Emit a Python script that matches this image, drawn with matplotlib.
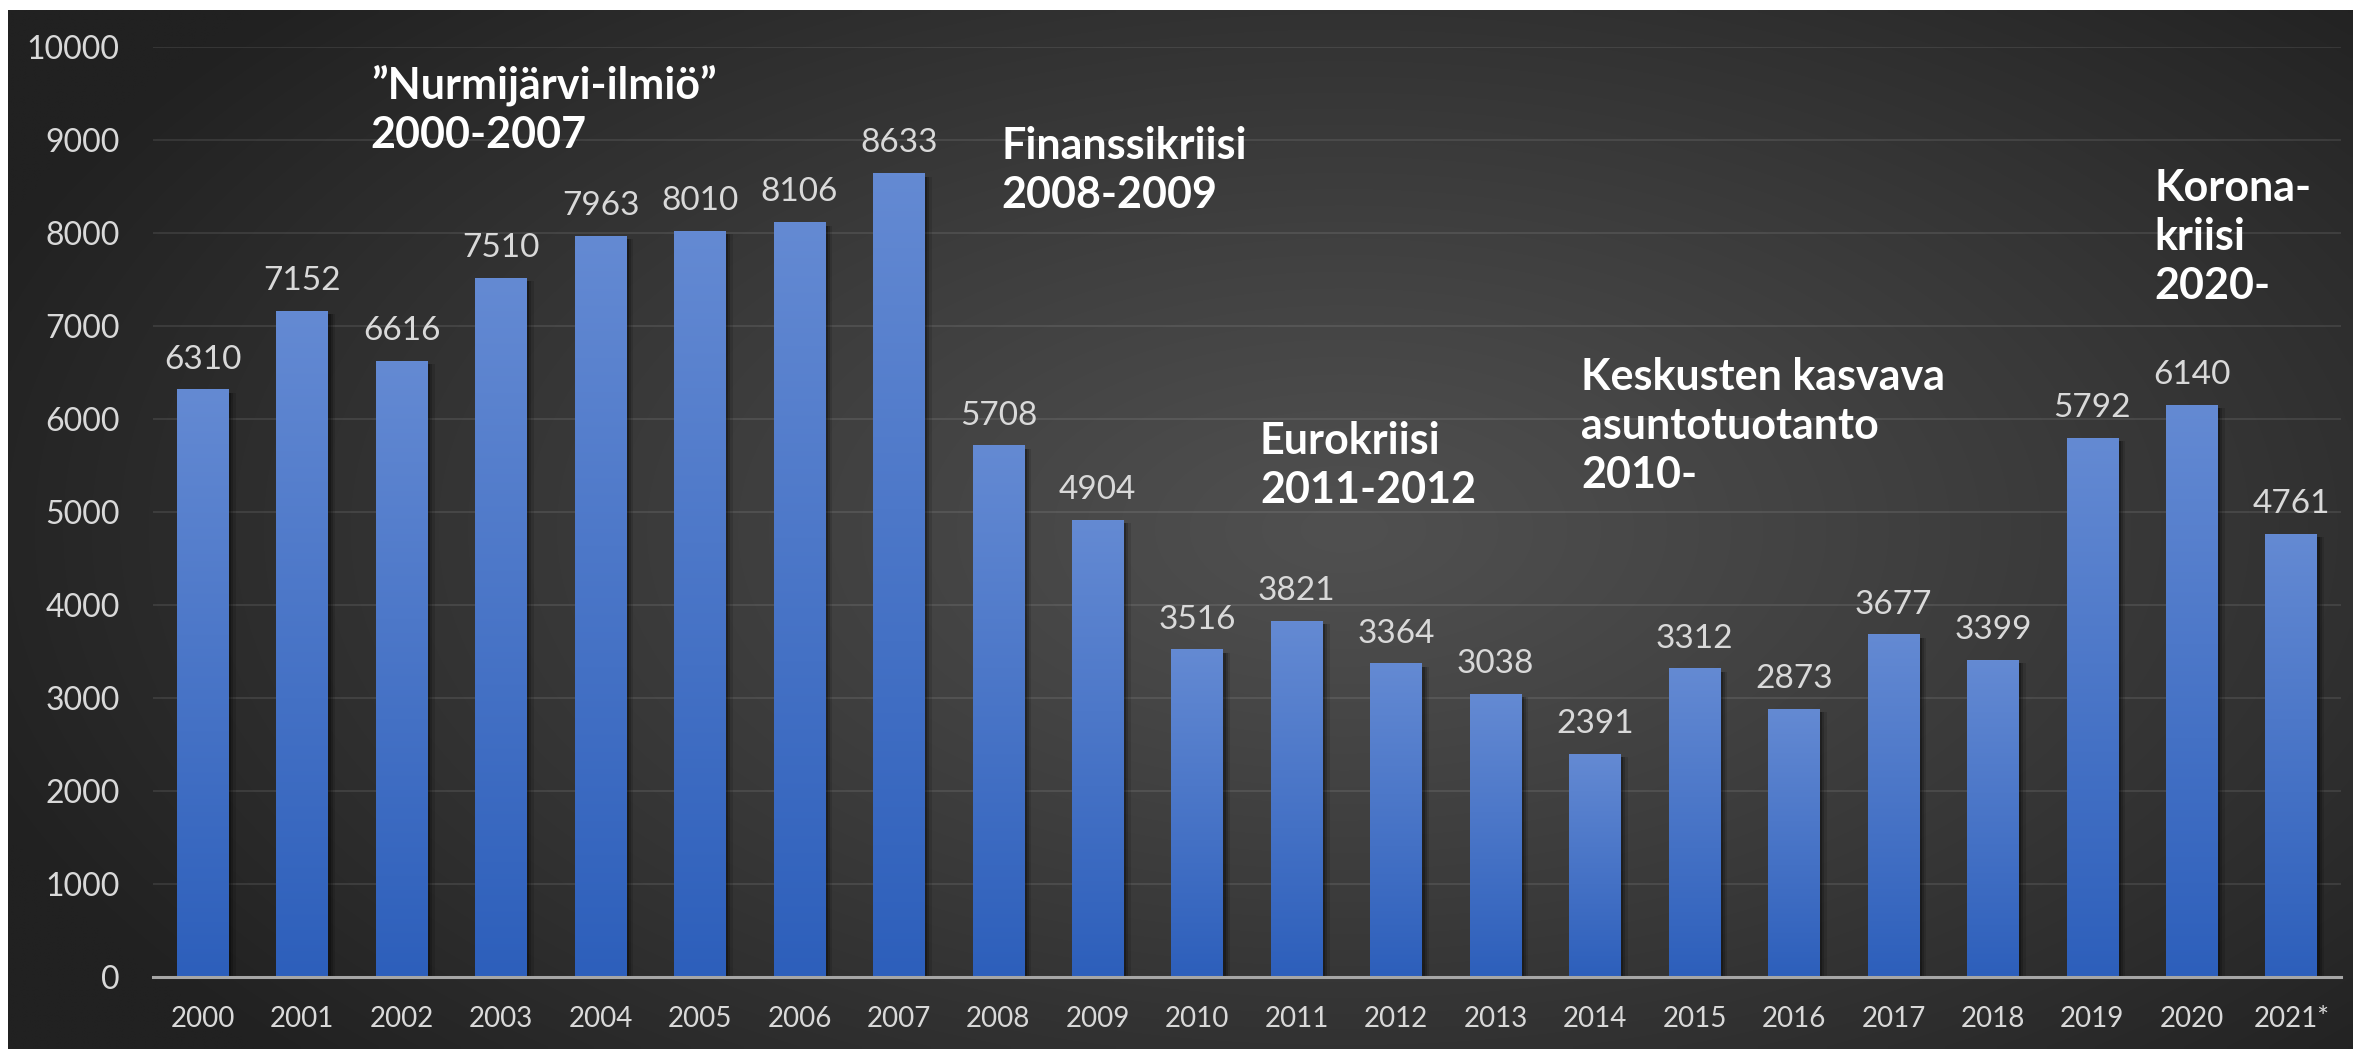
import matplotlib.pyplot as plt
import numpy as np
from matplotlib.colors import LinearSegmentedColormap
from matplotlib.patches import Rectangle

years = ['2000', '2001', '2002', '2003', '2004', '2005', '2006', '2007', '2008', '2009', '2010',
         '2011', '2012', '2013', '2014', '2015', '2016', '2017', '2018', '2019', '2020', '2021*']
values = [6310, 7152, 6616, 7510, 7963, 8010, 8106, 8633, 5708, 4904, 3516,
          3821, 3364, 3038, 2391, 3312, 2873, 3677, 3399, 5792, 6140, 4761]

notes = ['\u201dNurmijärvi-ilmiö\u201d\n2000-2007', 'Finanssikriisi\n2008-2009',
         'Eurokriisi\n2011-2012', 'Keskusten kasvava\nasuntotuotanto\n2010-',
         'Korona-\nkriisi\n2020-']
note_x = [1.69, 8.03, 10.63, 13.86, 19.62]
note_y = [9810, 9150, 5970, 6660, 8690]

plt.rcParams['font.family'] = ['Lato', 'DejaVu Sans']

W, H = 2353, 1049
fig = plt.figure(figsize=(W/100, H/100), dpi=100)
fig.patch.set_facecolor('white')

# dark radial background panel
bg = fig.add_axes([8/W, 0, 1-8/W, 1-10/H])
bg.axis('off')
xx, yy = np.meshgrid(np.linspace(0, 1, 400), np.linspace(0, 1, 200))
d = np.sqrt(((xx-0.57)/0.62)**2 + ((yy-0.5)/0.75)**2)
d = np.clip(d, 0, 1)
c = (80 - (80-33)*d**1.1)/255
bg.imshow(np.dstack([c, c, c]), aspect='auto', extent=[0, 1, 0, 1], interpolation='bilinear')
bg.set_xlim(0, 1)
bg.set_ylim(0, 1)

ax = fig.add_axes([102/1568, 1-651/699, 1458/1568, 620/699])
ax.patch.set_alpha(0)

bars = ax.bar(range(len(years)), values, width=0.52, color='#3d68c2', zorder=2)
cmap = LinearSegmentedColormap.from_list('bar', ['#2d5fbb', '#648ad3'])
grad = np.linspace(1, 0, 256).reshape(-1, 1)
for b in bars:
    x0, w, h = b.get_x(), b.get_width(), b.get_height()
    for k, a in [(0.07, 0.12), (0.045, 0.18), (0.025, 0.25)]:
        ax.add_patch(Rectangle((x0+k, 0), w, h-30, color='black', alpha=a, lw=0, zorder=1.5))
    ax.imshow(grad, extent=[x0, x0+w, 0, h], aspect='auto', cmap=cmap, zorder=2.1)

for i, v in enumerate(values):
    ax.annotate(str(v), (i, v), xytext=(0, 11), textcoords='offset points',
                ha='center', va='bottom', color='#d9d9d9', fontsize=24)

for t, x, y in zip(notes, note_x, note_y):
    ax.text(x, y, t, color='white', fontsize=31, fontweight='bold', ha='left', va='top',
            linespacing=1.27)

ax.set_xlim(-0.5, len(years)-0.5)
ax.set_ylim(0, 10000)
ax.set_yticks(range(0, 10001, 1000))
ax.set_xticks(range(len(years)))
ax.set_xticklabels(years)
ax.grid(axis='y', color='#ffffff', alpha=0.09, lw=1.5, zorder=0)
ax.set_axisbelow(True)
for s in ['top', 'right', 'left']:
    ax.spines[s].set_visible(False)
ax.spines['bottom'].set_color('#a6a6a6')
ax.spines['bottom'].set_linewidth(2.2)
ax.spines['bottom'].set_zorder(3)
ax.tick_params(axis='y', length=0, pad=24, labelsize=23, labelcolor='#d9d9d9')
ax.tick_params(axis='x', length=0, pad=21, labelsize=20, labelcolor='#d9d9d9')

fig.savefig('out.png', dpi=100)
